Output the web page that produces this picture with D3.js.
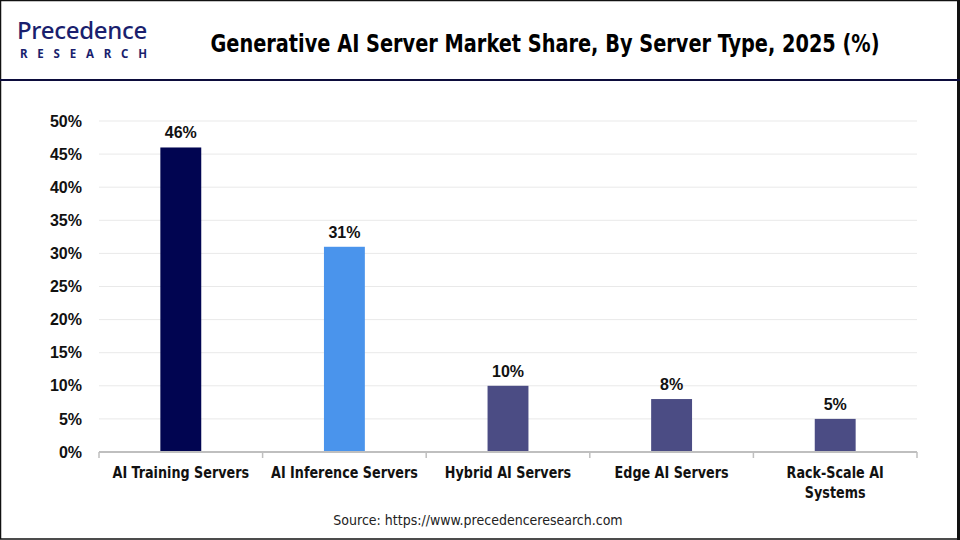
<!DOCTYPE html>
<html>
<head>
<meta charset="utf-8">
<script src="https://cdn.jsdelivr.net/npm/d3@7"></script>
<style>
  html, body { margin: 0; padding: 0; background: #fff; }
  svg { display: block; }
</style>
</head>
<body>
<div id="chart"></div>
<script>
// chart data
const categories = ['AI Training Servers', 'AI Inference Servers', 'Hybrid AI Servers', 'Edge AI Servers', 'Rack-Scale AI Systems'];
const shares = [46, 31, 10, 8, 5];
const barColors = ['#010551', '#4a94ec', '#4b4c84', '#4b4c84', '#4b4c84'];
const yTicks = [0, 5, 10, 15, 20, 25, 30, 35, 40, 45, 50];

const W = 960, H = 540;
const margin = { top: 121, right: 43, bottom: 88, left: 99 };
const width = W - margin.left - margin.right;
const height = H - margin.top - margin.bottom;

const narrow = "'DejaVu Sans Condensed', 'Liberation Sans Narrow', sans-serif";
const arial = "'Liberation Sans', Arial, sans-serif";

const svg = d3.select('#chart')
  .append('svg')
  .attr('width', W)
  .attr('height', H);

// outer frame
svg.append('rect')
  .attr('x', 0.5).attr('y', 0.5)
  .attr('width', W - 2).attr('height', H - 1.5)
  .attr('fill', '#fff')
  .attr('stroke', '#111')
  .attr('stroke-width', 1.5);
svg.append('line')
  .attr('x1', W - 1.5).attr('x2', W - 1.5)
  .attr('y1', 0).attr('y2', H)
  .attr('stroke', '#111').attr('stroke-width', 3);

// header divider
svg.append('line')
  .attr('x1', 0).attr('x2', W)
  .attr('y1', 80).attr('y2', 80)
  .attr('stroke', '#0c0c3c')
  .attr('stroke-width', 2);

// logo
const logo = svg.append('g');
logo.append('text')
  .attr('x', 17).attr('y', 39)
  .style('font-family', "'Noto Sans', sans-serif")
  .style('font-size', '24px')
  .style('font-weight', 500)
  .style('letter-spacing', '-0.3px')
  .attr('fill', '#1a1f6e')
  .text('Precedence');
logo.append('text')
  .attr('x', 20).attr('y', 58)
  .style('font-family', "'Noto Sans', sans-serif")
  .style('font-size', '11.5px')
  .style('font-weight', 700)
  .style('letter-spacing', '9.8px')
  .attr('fill', '#1a1f6e')
  .text('RESEARCH');

// squeeze a condensed font a bit more horizontally, anchored at its x
function squeeze(sel, k) {
  sel.attr('transform', function () {
    const cx = +d3.select(this).attr('x') || 0;
    return `translate(${cx},0) scale(${k},1) translate(${-cx},0)`;
  });
}

// title
svg.append('text')
  .attr('x', 545).attr('y', 52)
  .attr('text-anchor', 'middle')
  .style('font-family', narrow)
  .style('font-size', '25px')
  .style('font-weight', 700)
  .attr('fill', '#000')
  .text('Generative AI Server Market Share, By Server Type, 2025 (%)')
  .call(squeeze, 0.86);

const g = svg.append('g')
  .attr('transform', `translate(${margin.left},${margin.top})`);

const x = d3.scaleBand()
  .domain(categories)
  .range([0, width])
  .paddingInner(0.75)
  .paddingOuter(0.375);

const y = d3.scaleLinear()
  .domain([0, 50])
  .range([height, 0]);

// gridlines
g.append('g')
  .selectAll('line')
  .data(yTicks.filter(d => d > 0))
  .join('line')
  .attr('x1', 0).attr('x2', width)
  .attr('y1', d => y(d)).attr('y2', d => y(d))
  .attr('stroke', '#e9e9e9')
  .attr('stroke-width', 1);

// y axis labels
const yAxis = g.append('g')
  .call(d3.axisLeft(y).tickValues(yTicks).tickFormat(d => d + '%').tickSize(0).tickPadding(17));
yAxis.select('.domain').remove();
yAxis.selectAll('text')
  .style('font-family', arial)
  .style('font-size', '16px')
  .style('font-weight', 700)
  .attr('fill', '#111');

// bars
g.selectAll('.bar')
  .data(categories)
  .join('rect')
  .attr('class', 'bar')
  .attr('x', d => x(d))
  .attr('width', x.bandwidth())
  .attr('y', (d, i) => y(shares[i]))
  .attr('height', (d, i) => height - y(shares[i]))
  .attr('fill', (d, i) => barColors[i]);

// value labels
g.selectAll('.val')
  .data(categories)
  .join('text')
  .attr('class', 'val')
  .attr('x', d => x(d) + x.bandwidth() / 2)
  .attr('y', (d, i) => y(shares[i]) - 9)
  .attr('text-anchor', 'middle')
  .style('font-family', arial)
  .style('font-size', '16px')
  .style('font-weight', 700)
  .attr('fill', '#111')
  .text((d, i) => shares[i] + '%');

// x axis baseline with category boundary ticks
const boundaries = d3.range(categories.length + 1).map(i => i * width / categories.length);
const xAxis = g.append('g').attr('transform', `translate(0,${height})`);
xAxis.append('line')
  .attr('x1', 0).attr('x2', width)
  .attr('y1', 0).attr('y2', 0)
  .attr('stroke', '#bfbfbf').attr('stroke-width', 2);
xAxis.selectAll('.tk')
  .data(boundaries)
  .join('line')
  .attr('class', 'tk')
  .attr('x1', d => d).attr('x2', d => d)
  .attr('y1', 0).attr('y2', 6)
  .attr('stroke', '#bfbfbf').attr('stroke-width', 1.5);

// category labels (wrapped)
const wrapLines = { 'Rack-Scale AI Systems': ['Rack-Scale AI', 'Systems'] };
const cats = xAxis.selectAll('.cat')
  .data(categories)
  .join('g')
  .attr('class', 'cat')
  .attr('transform', d => `translate(${x(d) + x.bandwidth() / 2},26) scale(0.86,1)`);
cats.append('text')
  .attr('text-anchor', 'middle')
  .style('font-family', narrow)
  .style('font-size', '16.5px')
  .style('font-weight', 700)
  .attr('fill', '#111')
  .each(function (d) {
    const lines = wrapLines[d] || [d];
    d3.select(this).selectAll('tspan')
      .data(lines)
      .join('tspan')
      .attr('x', 0)
      .attr('dy', (l, i) => i === 0 ? 0 : 20)
      .text(l => l);
  });

// source
svg.append('text')
  .attr('x', 478).attr('y', 525)
  .attr('text-anchor', 'middle')
  .style('font-family', narrow)
  .style('font-size', '14px')
  .attr('fill', '#222')
  .text('Source: https://www.precedenceresearch.com');
</script>
</body>
</html>
